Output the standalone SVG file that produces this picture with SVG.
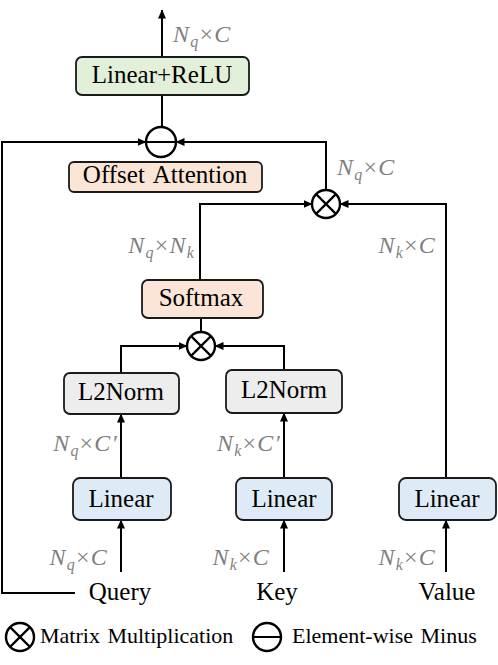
<svg xmlns="http://www.w3.org/2000/svg" width="498" height="665" viewBox="0 0 498 665">
<defs>
<marker id="ah" markerWidth="9" markerHeight="8" refX="8.5" refY="4" orient="auto" markerUnits="userSpaceOnUse">
<path d="M0,0 L9,4 L0,8 z" fill="#000"/>
</marker>
<style>
.box{stroke:#1a1a1a;stroke-width:1.8}
.green{fill:#e2f0d9}.peach{fill:#fbe5d6}.gray{fill:#ededed}.blue{fill:#deebf7}
.t{font-size:25px;fill:#000;text-anchor:middle}
.lg{font-size:22px;fill:#000}
.m{font-size:24px;font-style:italic;fill:#7f7f7f;letter-spacing:1.2px}
.s{font-size:16px}
.x{font-style:normal}
.c{fill:none;stroke:#000;stroke-width:2}
.op{fill:#fff;stroke:#000;stroke-width:2.4}
</style>
</defs>

<g id="connectors" class="c">
<line x1="162" y1="57" x2="162" y2="10" marker-end="url(#ah)"/>
<line x1="162" y1="127" x2="162" y2="95"/>
<path d="M75,593 H2 V142 H146" marker-end="url(#ah)"/>
<path d="M326,190 V142 H176" marker-end="url(#ah)"/>
<path d="M200,280 V204 H312" marker-end="url(#ah)"/>
<path d="M446,478 V204 H340" marker-end="url(#ah)"/>
<line x1="201" y1="332" x2="201" y2="318"/>
<path d="M121,373 V346 H187" marker-end="url(#ah)"/>
<path d="M284,370 V346 H215" marker-end="url(#ah)"/>
<line x1="121" y1="478" x2="121" y2="414" marker-end="url(#ah)"/>
<line x1="284" y1="478" x2="284" y2="413" marker-end="url(#ah)"/>
<line x1="121" y1="572" x2="121" y2="520" marker-end="url(#ah)"/>
<line x1="284" y1="572" x2="284" y2="520" marker-end="url(#ah)"/>
<line x1="446" y1="572" x2="446" y2="520" marker-end="url(#ah)"/>
</g>

<g id="linear-relu">
<rect class="box green" x="76" y="57" width="173" height="38" rx="6"/>
<text class="t" font-family="'Liberation Serif', serif" x="162" y="83">Linear+ReLU</text>
</g>

<g id="minus">
<circle class="op" cx="161" cy="142" r="15"/>
<line x1="146" y1="142" x2="176" y2="142" stroke="#000" stroke-width="2"/>
</g>

<g id="offset-attention">
<rect class="box peach" x="69" y="162" width="193" height="30" rx="5"/>
<text class="t" font-family="'Liberation Serif', serif" x="165" y="183" word-spacing="3">Offset Attention</text>
</g>

<g id="matmul1">
<circle class="op" cx="326" cy="204" r="14"/>
<path d="M316.1,194.1 L335.9,213.9 M335.9,194.1 L316.1,213.9" stroke="#000" stroke-width="2.2"/>
</g>

<g id="softmax">
<rect class="box peach" x="142" y="280" width="121" height="38" rx="6"/>
<text class="t" font-family="'Liberation Serif', serif" x="201" y="306">Softmax</text>
</g>

<g id="matmul2">
<circle class="op" cx="201" cy="346" r="14"/>
<path d="M191.1,336.1 L210.9,355.9 M210.9,336.1 L191.1,355.9" stroke="#000" stroke-width="2.2"/>
</g>

<g id="l2norm-q">
<rect class="box gray" x="64" y="373" width="115" height="41" rx="6"/>
<text class="t" font-family="'Liberation Serif', serif" x="121" y="400">L2Norm</text>
</g>

<g id="l2norm-k">
<rect class="box gray" x="226" y="370" width="116" height="43" rx="6"/>
<text class="t" font-family="'Liberation Serif', serif" x="284" y="398">L2Norm</text>
</g>

<g id="linear-q">
<rect class="box blue" x="73" y="478" width="98" height="42" rx="7"/>
<text class="t" font-family="'Liberation Serif', serif" x="121" y="507">Linear</text>
</g>
<g id="linear-k">
<rect class="box blue" x="236" y="478" width="96" height="42" rx="7"/>
<text class="t" font-family="'Liberation Serif', serif" x="284" y="507">Linear</text>
</g>
<g id="linear-v">
<rect class="box blue" x="399" y="478" width="97" height="42" rx="7"/>
<text class="t" font-family="'Liberation Serif', serif" x="447" y="507">Linear</text>
</g>

<g id="inputs">
<text class="t" font-family="'Liberation Serif', serif" x="120" y="600">Query</text>
<text class="t" font-family="'Liberation Serif', serif" x="277" y="600">Key</text>
<text class="t" font-family="'Liberation Serif', serif" x="447" y="600">Value</text>
</g>

<g id="dims">
<text class="m" font-family="'Liberation Serif', serif" x="173" y="42">N<tspan class="s" dy="5">q</tspan><tspan class="x" dy="-5">×</tspan>C</text>
<text class="m" font-family="'Liberation Serif', serif" x="337" y="175">N<tspan class="s" dy="5">q</tspan><tspan class="x" dy="-5">×</tspan>C</text>
<text class="m" font-family="'Liberation Serif', serif" x="195" y="253" text-anchor="end">N<tspan class="s" dy="5">q</tspan><tspan class="x" dy="-5">×</tspan>N<tspan class="s" dy="5">k</tspan></text>
<text class="m" font-family="'Liberation Serif', serif" x="436" y="253" text-anchor="end">N<tspan class="s" dy="5">k</tspan><tspan class="x" dy="-5">×</tspan>C</text>
<text class="m" font-family="'Liberation Serif', serif" x="118" y="451" text-anchor="end">N<tspan class="s" dy="5">q</tspan><tspan class="x" dy="-5">×</tspan>C′</text>
<text class="m" font-family="'Liberation Serif', serif" x="281" y="451" text-anchor="end">N<tspan class="s" dy="5">k</tspan><tspan class="x" dy="-5">×</tspan>C′</text>
<text class="m" font-family="'Liberation Serif', serif" x="108" y="565" text-anchor="end">N<tspan class="s" dy="5">q</tspan><tspan class="x" dy="-5">×</tspan>C</text>
<text class="m" font-family="'Liberation Serif', serif" x="270" y="565" text-anchor="end">N<tspan class="s" dy="5">k</tspan><tspan class="x" dy="-5">×</tspan>C</text>
<text class="m" font-family="'Liberation Serif', serif" x="436" y="565" text-anchor="end">N<tspan class="s" dy="5">k</tspan><tspan class="x" dy="-5">×</tspan>C</text>
</g>

<g id="legend">
<circle class="op" cx="20" cy="637" r="14"/>
<path d="M10.1,627.1 L29.9,646.9 M29.9,627.1 L10.1,646.9" stroke="#000" stroke-width="2.2"/>
<text class="lg" font-family="'Liberation Serif', serif" x="40" y="643" word-spacing="2">Matrix Multiplication</text>
<circle class="op" cx="267" cy="637" r="14"/>
<line x1="253" y1="637" x2="281" y2="637" stroke="#000" stroke-width="2"/>
<text class="lg" font-family="'Liberation Serif', serif" x="292" y="643" word-spacing="2">Element-wise Minus</text>
</g>
</svg>
